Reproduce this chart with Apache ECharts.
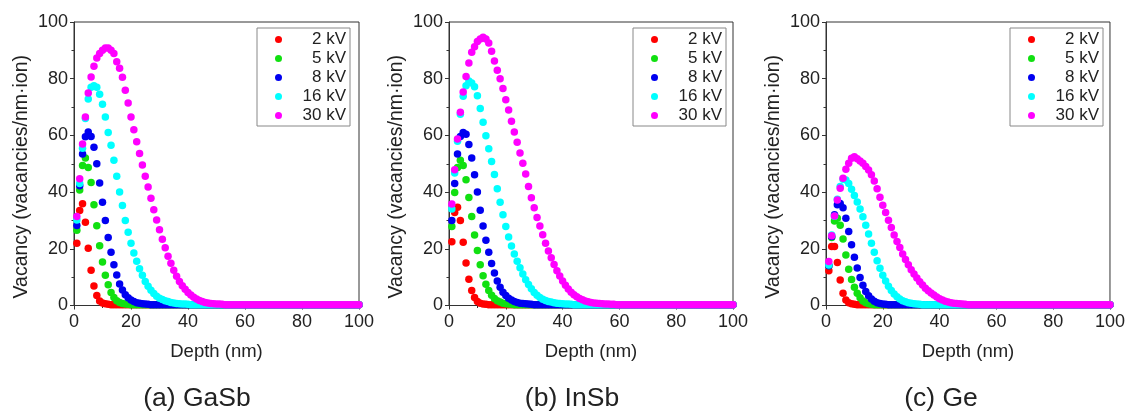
<!DOCTYPE html>
<html>
<head>
<meta charset="utf-8">
<title>Vacancy depth profiles</title>
<script src="https://cdn.jsdelivr.net/npm/echarts/dist/echarts.min.js"></script>
<style>
  html, body { margin: 0; padding: 0; background: #fff; }
  #main { width: 1128px; height: 414px; }
</style>
</head>
<body>
<div id="main"></div>
<script>
// depth in nm, one point per nm
const depth = [
  1, 2, 3, 4, 5, 6, 7, 8, 9, 10,
  11, 12, 13, 14, 15, 16, 17, 18, 19, 20,
  21, 22, 23, 24, 25, 26, 27, 28, 29, 30,
  31, 32, 33, 34, 35, 36, 37, 38, 39, 40,
  41, 42, 43, 44, 45, 46, 47, 48, 49, 50,
  51, 52, 53, 54, 55, 56, 57, 58, 59, 60,
  61, 62, 63, 64, 65, 66, 67, 68, 69, 70,
  71, 72, 73, 74, 75, 76, 77, 78, 79, 80,
  81, 82, 83, 84, 85, 86, 87, 88, 89, 90,
  91, 92, 93, 94, 95, 96, 97, 98, 99, 100
];

const voltages = ['2 kV', '5 kV', '8 kV', '16 kV', '30 kV'];
const panelTitles = ['(a) GaSb', '(b) InSb', '(c) Ge'];
const xTicks = [0, 20, 40, 60, 80, 100];
const yTicks = [0, 20, 40, 60, 80, 100];

// (a) GaSb
const gasb2 = [
  22, 33.5, 35.9, 29.4, 20.2, 12.4, 6.9, 3.5, 1.6, 0.9,
  0.6, 0.4, 0.3, 0.3, 0.3, 0.3, 0.3, 0.3, 0.3, 0.3,
  0.3, 0.3, 0.3, 0.3, 0.3, 0.3, 0.3, 0.3, 0.3, 0.3,
  0.3, 0.3, 0.3, 0.3, 0.3, 0.3, 0.3, 0.3, 0.3, 0.3,
  0.3, 0.3, 0.3, 0.3, 0.3, 0.3, 0.3, 0.3, 0.3, 0.3,
  0.3, 0.3, 0.3, 0.3, 0.3, 0.3, 0.3, 0.3, 0.3, 0.3,
  0.3, 0.3, 0.3, 0.3, 0.3, 0.3, 0.3, 0.3, 0.3, 0.3,
  0.3, 0.3, 0.3, 0.3, 0.3, 0.3, 0.3, 0.3, 0.3, 0.3,
  0.3, 0.3, 0.3, 0.3, 0.3, 0.3, 0.3, 0.3, 0.3, 0.3,
  0.3, 0.3, 0.3, 0.3, 0.3, 0.3, 0.3, 0.3, 0.3, 0.3
];
const gasb5 = [
  26.5, 40.7, 49.4, 52, 48.7, 43.4, 35.5, 28.1, 21.1, 15.3,
  10.7, 7.3, 4.6, 2.8, 1.7, 1.1, 0.7, 0.5, 0.4, 0.3,
  0.3, 0.3, 0.3, 0.3, 0.3, 0.3, 0.3, 0.3, 0.3, 0.3,
  0.3, 0.3, 0.3, 0.3, 0.3, 0.3, 0.3, 0.3, 0.3, 0.3,
  0.3, 0.3, 0.3, 0.3, 0.3, 0.3, 0.3, 0.3, 0.3, 0.3,
  0.3, 0.3, 0.3, 0.3, 0.3, 0.3, 0.3, 0.3, 0.3, 0.3,
  0.3, 0.3, 0.3, 0.3, 0.3, 0.3, 0.3, 0.3, 0.3, 0.3,
  0.3, 0.3, 0.3, 0.3, 0.3, 0.3, 0.3, 0.3, 0.3, 0.3,
  0.3, 0.3, 0.3, 0.3, 0.3, 0.3, 0.3, 0.3, 0.3, 0.3,
  0.3, 0.3, 0.3, 0.3, 0.3, 0.3, 0.3, 0.3, 0.3, 0.3
];
const gasb8 = [
  28.2, 42.2, 53.4, 59.5, 61.2, 59.6, 55.8, 50, 43.2, 36.4,
  30, 24, 18.8, 14.4, 10.8, 7.6, 5.5, 3.8, 2.7, 1.9,
  1.4, 1.0, 0.8, 0.6, 0.5, 0.4, 0.3, 0.3, 0.3, 0.3,
  0.3, 0.3, 0.3, 0.3, 0.3, 0.3, 0.3, 0.3, 0.3, 0.3,
  0.3, 0.3, 0.3, 0.3, 0.3, 0.3, 0.3, 0.3, 0.3, 0.3,
  0.3, 0.3, 0.3, 0.3, 0.3, 0.3, 0.3, 0.3, 0.3, 0.3,
  0.3, 0.3, 0.3, 0.3, 0.3, 0.3, 0.3, 0.3, 0.3, 0.3,
  0.3, 0.3, 0.3, 0.3, 0.3, 0.3, 0.3, 0.3, 0.3, 0.3,
  0.3, 0.3, 0.3, 0.3, 0.3, 0.3, 0.3, 0.3, 0.3, 0.3,
  0.3, 0.3, 0.3, 0.3, 0.3, 0.3, 0.3, 0.3, 0.3, 0.3
];
const gasb16 = [
  30.2, 43, 55.5, 66, 72.8, 77, 77.5, 77, 74.5, 71,
  66.5, 61, 56.5, 51.2, 45.6, 40, 35.3, 30, 25.8, 22,
  18.5, 15.6, 13, 10.7, 8.5, 6.8, 5.4, 4.2, 3.3, 2.6,
  2.1, 1.7, 1.4, 1.1, 0.9, 0.7, 0.6, 0.5, 0.5, 0.4,
  0.3, 0.3, 0.3, 0.3, 0.3, 0.3, 0.3, 0.3, 0.3, 0.3,
  0.3, 0.3, 0.3, 0.3, 0.3, 0.3, 0.3, 0.3, 0.3, 0.3,
  0.3, 0.3, 0.3, 0.3, 0.3, 0.3, 0.3, 0.3, 0.3, 0.3,
  0.3, 0.3, 0.3, 0.3, 0.3, 0.3, 0.3, 0.3, 0.3, 0.3,
  0.3, 0.3, 0.3, 0.3, 0.3, 0.3, 0.3, 0.3, 0.3, 0.3,
  0.3, 0.3, 0.3, 0.3, 0.3, 0.3, 0.3, 0.3, 0.3, 0.3
];
const gasb30 = [
  31.4, 44.7, 57, 66.5, 75, 80.6, 84.4, 87.3, 88.9, 90,
  90.8, 90.8, 90, 88.9, 86, 83.7, 80.5, 75.9, 71.4, 66.5,
  62, 57.8, 53.6, 49.6, 45.6, 41.8, 37.8, 33.8, 30.2, 26.7,
  23.4, 20.4, 17.4, 14.9, 12.4, 10.3, 8.5, 7, 5.7, 4.6,
  3.7, 2.9, 2.3, 1.8, 1.4, 1.1, 0.9, 0.7, 0.6, 0.5,
  0.5, 0.4, 0.3, 0.3, 0.3, 0.3, 0.3, 0.3, 0.3, 0.3,
  0.3, 0.3, 0.3, 0.3, 0.3, 0.3, 0.3, 0.3, 0.3, 0.3,
  0.3, 0.3, 0.3, 0.3, 0.3, 0.3, 0.3, 0.3, 0.3, 0.3,
  0.3, 0.3, 0.3, 0.3, 0.3, 0.3, 0.3, 0.3, 0.3, 0.3,
  0.3, 0.3, 0.3, 0.3, 0.3, 0.3, 0.3, 0.3, 0.3, 0.3
];

// (b) InSb
const insb2 = [
  22.5, 32.8, 34.7, 30, 22.3, 15, 9.3, 5.3, 2.8, 1.4,
  0.8, 0.5, 0.4, 0.3, 0.3, 0.3, 0.3, 0.3, 0.3, 0.3,
  0.3, 0.3, 0.3, 0.3, 0.3, 0.3, 0.3, 0.3, 0.3, 0.3,
  0.3, 0.3, 0.3, 0.3, 0.3, 0.3, 0.3, 0.3, 0.3, 0.3,
  0.3, 0.3, 0.3, 0.3, 0.3, 0.3, 0.3, 0.3, 0.3, 0.3,
  0.3, 0.3, 0.3, 0.3, 0.3, 0.3, 0.3, 0.3, 0.3, 0.3,
  0.3, 0.3, 0.3, 0.3, 0.3, 0.3, 0.3, 0.3, 0.3, 0.3,
  0.3, 0.3, 0.3, 0.3, 0.3, 0.3, 0.3, 0.3, 0.3, 0.3,
  0.3, 0.3, 0.3, 0.3, 0.3, 0.3, 0.3, 0.3, 0.3, 0.3,
  0.3, 0.3, 0.3, 0.3, 0.3, 0.3, 0.3, 0.3, 0.3, 0.3
];
const insb5 = [
  27.9, 39.9, 48.7, 51.2, 49.4, 44.4, 38.1, 31.4, 24.9, 19.4,
  14.4, 10.5, 7.5, 5.3, 3.6, 2.5, 1.7, 1.2, 0.8, 0.6,
  0.5, 0.4, 0.3, 0.3, 0.3, 0.3, 0.3, 0.3, 0.3, 0.3,
  0.3, 0.3, 0.3, 0.3, 0.3, 0.3, 0.3, 0.3, 0.3, 0.3,
  0.3, 0.3, 0.3, 0.3, 0.3, 0.3, 0.3, 0.3, 0.3, 0.3,
  0.3, 0.3, 0.3, 0.3, 0.3, 0.3, 0.3, 0.3, 0.3, 0.3,
  0.3, 0.3, 0.3, 0.3, 0.3, 0.3, 0.3, 0.3, 0.3, 0.3,
  0.3, 0.3, 0.3, 0.3, 0.3, 0.3, 0.3, 0.3, 0.3, 0.3,
  0.3, 0.3, 0.3, 0.3, 0.3, 0.3, 0.3, 0.3, 0.3, 0.3,
  0.3, 0.3, 0.3, 0.3, 0.3, 0.3, 0.3, 0.3, 0.3, 0.3
];
const insb8 = [
  30, 43, 53.4, 59.6, 61, 60.4, 56.8, 52, 46.1, 40,
  33.6, 28, 23, 18.8, 14.8, 11.5, 8.6, 6.4, 4.7, 3.5,
  2.6, 1.9, 1.4, 1.1, 0.8, 0.7, 0.6, 0.5, 0.4, 0.3,
  0.3, 0.3, 0.3, 0.3, 0.3, 0.3, 0.3, 0.3, 0.3, 0.3,
  0.3, 0.3, 0.3, 0.3, 0.3, 0.3, 0.3, 0.3, 0.3, 0.3,
  0.3, 0.3, 0.3, 0.3, 0.3, 0.3, 0.3, 0.3, 0.3, 0.3,
  0.3, 0.3, 0.3, 0.3, 0.3, 0.3, 0.3, 0.3, 0.3, 0.3,
  0.3, 0.3, 0.3, 0.3, 0.3, 0.3, 0.3, 0.3, 0.3, 0.3,
  0.3, 0.3, 0.3, 0.3, 0.3, 0.3, 0.3, 0.3, 0.3, 0.3,
  0.3, 0.3, 0.3, 0.3, 0.3, 0.3, 0.3, 0.3, 0.3, 0.3
];
const insb16 = [
  34, 46.7, 57.9, 67.5, 73.8, 77.5, 79.2, 78.5, 77.2, 74,
  69.5, 64.6, 59.9, 55.3, 50.8, 46.2, 41.2, 36.4, 32, 27.9,
  24.2, 21, 18.2, 15.6, 13.3, 11.1, 9.1, 7.4, 5.9, 4.6,
  3.6, 2.8, 2.2, 1.8, 1.4, 1.2, 1.0, 0.8, 0.7, 0.6,
  0.5, 0.5, 0.4, 0.3, 0.3, 0.3, 0.3, 0.3, 0.3, 0.3,
  0.3, 0.3, 0.3, 0.3, 0.3, 0.3, 0.3, 0.3, 0.3, 0.3,
  0.3, 0.3, 0.3, 0.3, 0.3, 0.3, 0.3, 0.3, 0.3, 0.3,
  0.3, 0.3, 0.3, 0.3, 0.3, 0.3, 0.3, 0.3, 0.3, 0.3,
  0.3, 0.3, 0.3, 0.3, 0.3, 0.3, 0.3, 0.3, 0.3, 0.3,
  0.3, 0.3, 0.3, 0.3, 0.3, 0.3, 0.3, 0.3, 0.3, 0.3
];
const insb30 = [
  35.8, 47.9, 58.7, 68.2, 75.3, 80.8, 85.5, 89.3, 91.3, 93.1,
  94, 94.6, 94, 92.6, 89.7, 86.2, 83, 80, 76.5, 72.6,
  69, 65, 61.2, 57.6, 53.8, 50.2, 46.4, 42, 38, 34.5,
  31, 28, 25, 22, 19.2, 16.8, 14.5, 12.3, 10.4, 8.6,
  7.1, 5.8, 4.7, 3.8, 3.1, 2.5, 2.0, 1.6, 1.3, 1.1,
  0.9, 0.8, 0.7, 0.6, 0.5, 0.5, 0.4, 0.4, 0.3, 0.3,
  0.3, 0.3, 0.3, 0.3, 0.3, 0.3, 0.3, 0.3, 0.3, 0.3,
  0.3, 0.3, 0.3, 0.3, 0.3, 0.3, 0.3, 0.3, 0.3, 0.3,
  0.3, 0.3, 0.3, 0.3, 0.3, 0.3, 0.3, 0.3, 0.3, 0.3,
  0.3, 0.3, 0.3, 0.3, 0.3, 0.3, 0.3, 0.3, 0.3, 0.3
];

// (c) Ge
const ge2 = [
  12.3, 20.8, 20.8, 15.2, 9, 4.3, 1.9, 1.0, 0.6, 0.4,
  0.3, 0.3, 0.3, 0.3, 0.3, 0.3, 0.3, 0.3, 0.3, 0.3,
  0.3, 0.3, 0.3, 0.3, 0.3, 0.3, 0.3, 0.3, 0.3, 0.3,
  0.3, 0.3, 0.3, 0.3, 0.3, 0.3, 0.3, 0.3, 0.3, 0.3,
  0.3, 0.3, 0.3, 0.3, 0.3, 0.3, 0.3, 0.3, 0.3, 0.3,
  0.3, 0.3, 0.3, 0.3, 0.3, 0.3, 0.3, 0.3, 0.3, 0.3,
  0.3, 0.3, 0.3, 0.3, 0.3, 0.3, 0.3, 0.3, 0.3, 0.3,
  0.3, 0.3, 0.3, 0.3, 0.3, 0.3, 0.3, 0.3, 0.3, 0.3,
  0.3, 0.3, 0.3, 0.3, 0.3, 0.3, 0.3, 0.3, 0.3, 0.3,
  0.3, 0.3, 0.3, 0.3, 0.3, 0.3, 0.3, 0.3, 0.3, 0.3
];
const ge5 = [
  14, 24, 29.8, 30.8, 28.3, 23.5, 17.8, 12.8, 9.2, 6.4,
  4.3, 2.7, 1.6, 1.0, 0.6, 0.4, 0.3, 0.3, 0.3, 0.3,
  0.3, 0.3, 0.3, 0.3, 0.3, 0.3, 0.3, 0.3, 0.3, 0.3,
  0.3, 0.3, 0.3, 0.3, 0.3, 0.3, 0.3, 0.3, 0.3, 0.3,
  0.3, 0.3, 0.3, 0.3, 0.3, 0.3, 0.3, 0.3, 0.3, 0.3,
  0.3, 0.3, 0.3, 0.3, 0.3, 0.3, 0.3, 0.3, 0.3, 0.3,
  0.3, 0.3, 0.3, 0.3, 0.3, 0.3, 0.3, 0.3, 0.3, 0.3,
  0.3, 0.3, 0.3, 0.3, 0.3, 0.3, 0.3, 0.3, 0.3, 0.3,
  0.3, 0.3, 0.3, 0.3, 0.3, 0.3, 0.3, 0.3, 0.3, 0.3,
  0.3, 0.3, 0.3, 0.3, 0.3, 0.3, 0.3, 0.3, 0.3, 0.3
];
const ge8 = [
  14, 24.3, 32, 35.5, 36, 34.5, 30.8, 26.1, 21.4, 17,
  13.2, 9.9, 7.1, 4.9, 3.4, 2.3, 1.5, 1.0, 0.7, 0.5,
  0.4, 0.3, 0.3, 0.3, 0.3, 0.3, 0.3, 0.3, 0.3, 0.3,
  0.3, 0.3, 0.3, 0.3, 0.3, 0.3, 0.3, 0.3, 0.3, 0.3,
  0.3, 0.3, 0.3, 0.3, 0.3, 0.3, 0.3, 0.3, 0.3, 0.3,
  0.3, 0.3, 0.3, 0.3, 0.3, 0.3, 0.3, 0.3, 0.3, 0.3,
  0.3, 0.3, 0.3, 0.3, 0.3, 0.3, 0.3, 0.3, 0.3, 0.3,
  0.3, 0.3, 0.3, 0.3, 0.3, 0.3, 0.3, 0.3, 0.3, 0.3,
  0.3, 0.3, 0.3, 0.3, 0.3, 0.3, 0.3, 0.3, 0.3, 0.3,
  0.3, 0.3, 0.3, 0.3, 0.3, 0.3, 0.3, 0.3, 0.3, 0.3
];
const ge16 = [
  14.3, 24.9, 31.5, 37.5, 42, 44.5, 44.3, 43, 41, 38.8,
  36.5, 34, 31.3, 28.3, 25.2, 22, 18.8, 15.8, 13.1, 10.7,
  8.6, 6.8, 5.3, 4.1, 3.1, 2.3, 1.7, 1.3, 1.0, 0.8,
  0.6, 0.5, 0.4, 0.3, 0.3, 0.3, 0.3, 0.3, 0.3, 0.3,
  0.3, 0.3, 0.3, 0.3, 0.3, 0.3, 0.3, 0.3, 0.3, 0.3,
  0.3, 0.3, 0.3, 0.3, 0.3, 0.3, 0.3, 0.3, 0.3, 0.3,
  0.3, 0.3, 0.3, 0.3, 0.3, 0.3, 0.3, 0.3, 0.3, 0.3,
  0.3, 0.3, 0.3, 0.3, 0.3, 0.3, 0.3, 0.3, 0.3, 0.3,
  0.3, 0.3, 0.3, 0.3, 0.3, 0.3, 0.3, 0.3, 0.3, 0.3,
  0.3, 0.3, 0.3, 0.3, 0.3, 0.3, 0.3, 0.3, 0.3, 0.3
];
const ge30 = [
  15.5, 24.6, 31.6, 37.2, 41.4, 44.9, 48.1, 50.2, 51.9, 52.5,
  51.8, 51, 50.2, 49, 47.8, 46.1, 43.9, 41.2, 38.2, 35.4,
  32.8, 30.1, 27.5, 24.9, 22.6, 20.5, 18.2, 16.2, 14.4, 12.6,
  11.1, 9.7, 8.4, 7.2, 6.1, 5.2, 4.4, 3.7, 3.0, 2.4,
  1.9, 1.5, 1.2, 1.0, 0.8, 0.7, 0.6, 0.5, 0.4, 0.3,
  0.3, 0.3, 0.3, 0.3, 0.3, 0.3, 0.3, 0.3, 0.3, 0.3,
  0.3, 0.3, 0.3, 0.3, 0.3, 0.3, 0.3, 0.3, 0.3, 0.3,
  0.3, 0.3, 0.3, 0.3, 0.3, 0.3, 0.3, 0.3, 0.3, 0.3,
  0.3, 0.3, 0.3, 0.3, 0.3, 0.3, 0.3, 0.3, 0.3, 0.3,
  0.3, 0.3, 0.3, 0.3, 0.3, 0.3, 0.3, 0.3, 0.3, 0.3
];

const panels = [
  [gasb2, gasb5, gasb8, gasb16, gasb30],
  [insb2, insb5, insb8, insb16, insb30],
  [ge2, ge5, ge8, ge16, ge30]
];

const colors = ['#ff0000', '#11e011', '#0000f0', '#00ffff', '#ff00ff'];
const font = "'Liberation Sans', Arial, sans-serif";
const ink = '#222';

const boxes = [
  { left: 74, top: 22, width: 285, height: 283.5 },
  { left: 449, top: 22, width: 284, height: 283.5 },
  { left: 826, top: 22, width: 285, height: 283.5 }
];
const legendLeft = [257, 633, 1010];
const titleCenter = [197, 572, 941];

const chart = echarts.init(document.getElementById('main'), null, { renderer: 'canvas' });

const axisCommon = {
  min: 0,
  max: 100,
  interval: 20,
  axisLine: { show: true, onZero: false, lineStyle: { color: '#333', width: 1 } },
  axisTick: { show: true, inside: false, length: 4, lineStyle: { color: '#333' } },
  minorTick: { show: true, splitNumber: 2, length: 2.5, lineStyle: { color: '#333' } },
  splitLine: { show: false }
};

const option = {
  animation: false,
  backgroundColor: '#fff',
  title: panelTitles.map((t, i) => ({
    text: t,
    left: titleCenter[i],
    top: 385,
    textAlign: 'center',
    padding: 0,
    textStyle: { fontFamily: font, fontSize: 26.5, fontWeight: 'normal', color: ink }
  })),
  grid: boxes.map((b) => ({
    left: b.left, top: b.top, width: b.width, height: b.height,
    show: true, borderColor: '#333', borderWidth: 1, backgroundColor: 'transparent'
  })),
  legend: legendLeft.map((l) => ({
    data: voltages,
    orient: 'vertical',
    left: l,
    top: 28,
    icon: 'circle',
    itemWidth: 7,
    itemHeight: 7,
    itemGap: 2,
    itemTextGap: 5,
    padding: [3, 4, 2, 18],
    borderColor: '#888',
    borderWidth: 1,
    selectedMode: false,
    formatter: '{r|{name}}',
    textStyle: {
      rich: { r: { width: 59, align: 'right', fontFamily: font, fontSize: 17, lineHeight: 19.4, color: ink } }
    }
  })),
  xAxis: boxes.map((b, i) => Object.assign({}, axisCommon, {
    type: 'value',
    gridIndex: i,
    name: 'Depth (nm)',
    nameLocation: 'middle',
    nameGap: 37,
    nameTextStyle: { fontFamily: font, fontSize: 18.5, color: ink },
    axisLabel: {
      fontFamily: font, fontSize: 18, color: ink, margin: 8,
      formatter: (v) => (xTicks.indexOf(v) >= 0 ? String(v) : '')
    }
  })),
  yAxis: boxes.map((b, i) => Object.assign({}, axisCommon, {
    type: 'value',
    gridIndex: i,
    name: 'Vacancy (vacancies/nm·ion)',
    nameLocation: 'middle',
    nameGap: 42,
    nameTextStyle: { fontFamily: font, fontSize: 19.5, color: ink, padding: [0, 26, 0, 0] },
    axisLabel: {
      fontFamily: font, fontSize: 18, color: ink, margin: 6,
      formatter: (v) => (yTicks.indexOf(v) >= 0 ? String(v) : '')
    }
  })),
  series: []
};

panels.forEach((sets, p) => {
  sets.forEach((vals, k) => {
    option.series.push({
      type: 'scatter',
      name: voltages[k],
      xAxisIndex: p,
      yAxisIndex: p,
      symbol: 'circle',
      symbolSize: 7.5,
      silent: true,
      itemStyle: { color: colors[k], opacity: 1 },
      data: vals.map((v, j) => [depth[j], v])
    });
  });
});

chart.setOption(option);
</script>
</body>
</html>
